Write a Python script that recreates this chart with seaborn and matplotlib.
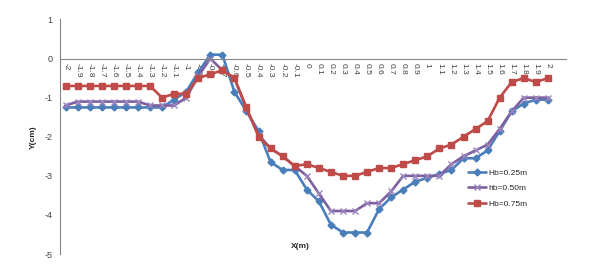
import numpy as np
import pandas as pd
import matplotlib
matplotlib.use('Agg')
import matplotlib.pyplot as plt
import seaborn as sns

# ── Dados ─────────────────────────────────────────────────────────────────────
x_labels = ['-2', '-1.9', '-1.8', '-1.7', '-1.6', '-1.5', '-1.4', '-1.3', '-1.2', '-1.1',
            '-1', '-0.9', '-0.8', '-0.7', '-0.6', '-0.5', '-0.4', '-0.3', '-0.2', '-0.1',
            '0', '0.1', '0.2', '0.3', '0.4', '0.5', '0.6', '0.7', '0.8', '0.9',
            '1', '1.1', '1.2', '1.3', '1.4', '1.5', '1.6', '1.7', '1.8', '1.9', '2']

hb_025 = [-1.25, -1.25, -1.25, -1.25, -1.25, -1.25, -1.25, -1.25, -1.25, -1.05,
          -0.85, -0.35, 0.1, 0.1, -0.85, -1.35, -1.85, -2.65, -2.85, -2.85,
          -3.35, -3.65, -4.25, -4.45, -4.45, -4.45, -3.85, -3.55, -3.35, -3.15,
          -3.05, -2.95, -2.85, -2.55, -2.55, -2.35, -1.85, -1.35, -1.15, -1.05, -1.05]

hb_050 = [-1.2, -1.1, -1.1, -1.1, -1.1, -1.1, -1.1, -1.2, -1.2, -1.2,
          -1.0, -0.45, 0.0, -0.3, -0.5, -1.3, -1.95, -2.3, -2.5, -2.75,
          -3.0, -3.45, -3.9, -3.9, -3.9, -3.7, -3.7, -3.4, -3.0, -3.0,
          -3.0, -3.0, -2.7, -2.5, -2.35, -2.2, -1.8, -1.35, -1.0, -1.0, -1.0]

hb_075 = [-0.7, -0.7, -0.7, -0.7, -0.7, -0.7, -0.7, -0.7, -1.0, -0.9,
          -0.9, -0.5, -0.4, -0.3, -0.5, -1.25, -2.0, -2.3, -2.5, -2.75,
          -2.7, -2.8, -2.9, -3.0, -3.0, -2.9, -2.8, -2.8, -2.7, -2.6,
          -2.5, -2.3, -2.2, -2.0, -1.8, -1.6, -1.0, -0.6, -0.5, -0.6, -0.5]

series = {'Hb=0.25m': hb_025, 'hb=0.50m': hb_050, 'Hb=0.75m': hb_075}
cores = {'Hb=0.25m': '#4A7EBB', 'hb=0.50m': '#7D60A0', 'Hb=0.75m': '#BE4B48'}
marcadores = {'Hb=0.25m': 'D', 'hb=0.50m': 'x', 'Hb=0.75m': 's'}
tamanhos = {'Hb=0.25m': 3.5, 'hb=0.50m': 4.5, 'Hb=0.75m': 5}
cor_marcador = {'Hb=0.25m': '#4A7EBB', 'hb=0.50m': '#9A84BD', 'Hb=0.75m': '#BE4B48'}

# ── Figura ────────────────────────────────────────────────────────────────────
sns.set_style('white')
plt.rcParams['font.family'] = ['Liberation Sans', 'DejaVu Sans']

fig = plt.figure(figsize=(6.09, 2.74), dpi=100)
ax = fig.add_axes([59.6 / 609, 20 / 274, (566 - 59.6) / 609, (254 - 19.5) / 274])

pos = np.arange(len(x_labels))
for nome, vals in series.items():
    df = pd.DataFrame({'pos': pos, 'y': vals})
    sns.lineplot(data=df, x='pos', y='y', ax=ax, color=cores[nome], linewidth=1.9,
                 marker=marcadores[nome], markersize=tamanhos[nome],
                 markeredgecolor=cor_marcador[nome], markeredgewidth=1.0, label=nome)

ax.set_xlim(-0.5, len(x_labels) + 0.5)
ax.set_ylim(-5, 1)
ax.set_yticks(range(-5, 2))
ax.set_yticklabels([str(v) for v in range(-5, 2)], fontsize=6.5, color='#404040')

# eixo X cruza em y=0, estilo Excel
ax.spines['bottom'].set_position(('data', 0))
ax.spines['top'].set_visible(False)
ax.spines['right'].set_visible(False)
for s in ['bottom', 'left']:
    ax.spines[s].set_color('#868686')
    ax.spines[s].set_linewidth(0.8)

ax.set_xticks(pos)
ax.set_xticklabels(x_labels, rotation=-90, fontsize=6, color='#404040')
ax.set_xticks(np.arange(-0.5, len(x_labels) + 1), minor=True)
ax.tick_params(axis='x', which='major', length=0, pad=3)
ax.tick_params(axis='x', which='minor', length=3, color='#868686', direction='out')
ax.tick_params(axis='y', which='major', length=3, color='#868686', direction='out', pad=2)

ax.set_xlabel('X(m)', fontsize=6, fontweight='bold')
ax.xaxis.set_label_coords(0.475, 0.045)
ax.set_ylabel('Y(cm)', fontsize=6, fontweight='bold')
ax.yaxis.set_label_coords(-0.045, 0.5)

ax.legend(loc='center left', bbox_to_anchor=(0.80, 0.28), frameon=False, fontsize=6,
          handlelength=2.2, handletextpad=0.2, labelspacing=0.95, borderaxespad=0)

plt.savefig('out.png', dpi=100)
plt.close()
